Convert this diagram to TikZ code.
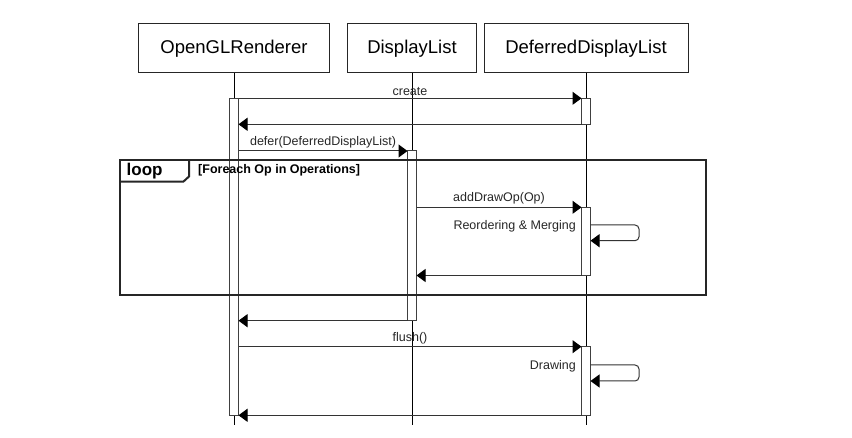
\documentclass[tikz,border=0pt]{standalone}
\usepackage{fontspec}
\setmainfont{Liberation Sans}
\usetikzlibrary{arrows.meta}
\begin{document}
\begin{tikzpicture}[x=1pt,y=-1pt,
  lifebox/.style={draw=black!85, line width=1pt, fill=white, rectangle, inner sep=0pt, outer sep=0pt,
    minimum height=49pt, anchor=north, font=\fontsize{18.5}{22}\selectfont},
  life/.style={draw=black, line width=1pt},
  actbar/.style={draw=black!75, line width=1pt, fill=white, rectangle, inner sep=0pt, outer sep=0pt,
    minimum width=9pt, anchor=north},
  msg/.style={draw=black!80, line width=1pt, -{Triangle[length=9pt,width=13pt,color=black]}},
  lbl/.style={font=\fontsize{12.5}{15}\selectfont, inner sep=0pt, text=black!85},
  framestyle/.style={draw=black!85, line width=2pt}
]
\useasboundingbox (0,0) rectangle (852,438);

% lifeline heads
\node[lifebox, minimum width=191pt] (ogl) at (234,24) {OpenGLRenderer};
\node[lifebox, minimum width=129pt] (dl)  at (412,24) {DisplayList};
\node[lifebox, minimum width=204pt] (ddl) at (586,24) {DeferredDisplayList};

% lifelines
\coordinate (oglEnd) at (234,425);
\coordinate (dlEnd)  at (412,425);
\coordinate (ddlEnd) at (586,425);
\draw[life] (ogl.south) -- (oglEnd);
\draw[life] (dl.south) -- (dlEnd);
\draw[life] (ddl.south) -- (ddlEnd);

% activation bars
\node[actbar, minimum height=317pt]  (barA)  at (234,98.3) {};
\node[actbar, minimum height=26pt]   (barC1) at (586,98.3) {};
\node[actbar, minimum height=170pt]  (barB)  at (412,151) {};
\node[actbar, minimum height=68.2pt] (barC2) at (586,207.3) {};
\node[actbar, minimum height=68.6pt] (barC3) at (586,346.7) {};

% loop frame
\node[framestyle, rectangle, inner sep=0pt, outer sep=0pt, minimum width=586pt, minimum height=135pt,
  anchor=north west] (loopframe) at (120,160) {};
\coordinate (tabA) at (120,181.7);
\coordinate (tabB) at (183.3,181.7);
\coordinate (tabC) at (189,176.5);
\coordinate (tabD) at (189,160);
\draw[framestyle, line join=miter] (tabA) -- (tabB) -- (tabC) -- (tabD);
\node[anchor=base west, inner sep=0pt, font=\bfseries\fontsize{17}{20}\selectfont] (looplbl) at (126.5,175.5) {loop};
\node[anchor=base west, inner sep=0pt, font=\bfseries\fontsize{12.5}{15}\selectfont] (guard) at (198,174) {[Foreach Op in Operations]};

% messages
\draw[msg] (barA.east |- 0,98.3) -- node[lbl, anchor=base, above=2.5pt] (m1) {create} (barC1.west |- 0,98.3);
\draw[msg] (barC1.west |- 0,124.3) -- (barA.east |- 0,124.3);
\draw[msg] (barA.east |- 0,151) -- node[lbl, anchor=base, above=2.5pt] (m2) {defer(DeferredDisplayList)} (barB.west |- 0,151);
\draw[msg] (barB.east |- 0,207.3) -- node[lbl, anchor=base, above=2.5pt] (m3) {addDrawOp(Op)} (barC2.west |- 0,207.3);
\draw[msg, rounded corners=4pt] (barC2.east |- 0,225) -- (639,225) -- (639,240.7) -- (barC2.east |- 0,240.7);
\node[lbl, anchor=base east] (m4) at (576,229.5) {Reordering \& Merging};
\draw[msg] (barC2.west |- 0,275.5) -- (barB.east |- 0,275.5);
\draw[msg] (barB.west |- 0,320.7) -- (barA.east |- 0,320.7);
\draw[msg] (barA.east |- 0,346.7) -- node[lbl, anchor=base, above=2.5pt] (m5) {flush()} (barC3.west |- 0,346.7);
\draw[msg, rounded corners=4pt] (barC3.east |- 0,365) -- (639,365) -- (639,381) -- (barC3.east |- 0,381);
\node[lbl, anchor=base east] (m6) at (576,369.5) {Drawing};
\draw[msg] (barC3.west |- 0,415.3) -- (barA.east |- 0,415.3);
\end{tikzpicture}
\end{document}
